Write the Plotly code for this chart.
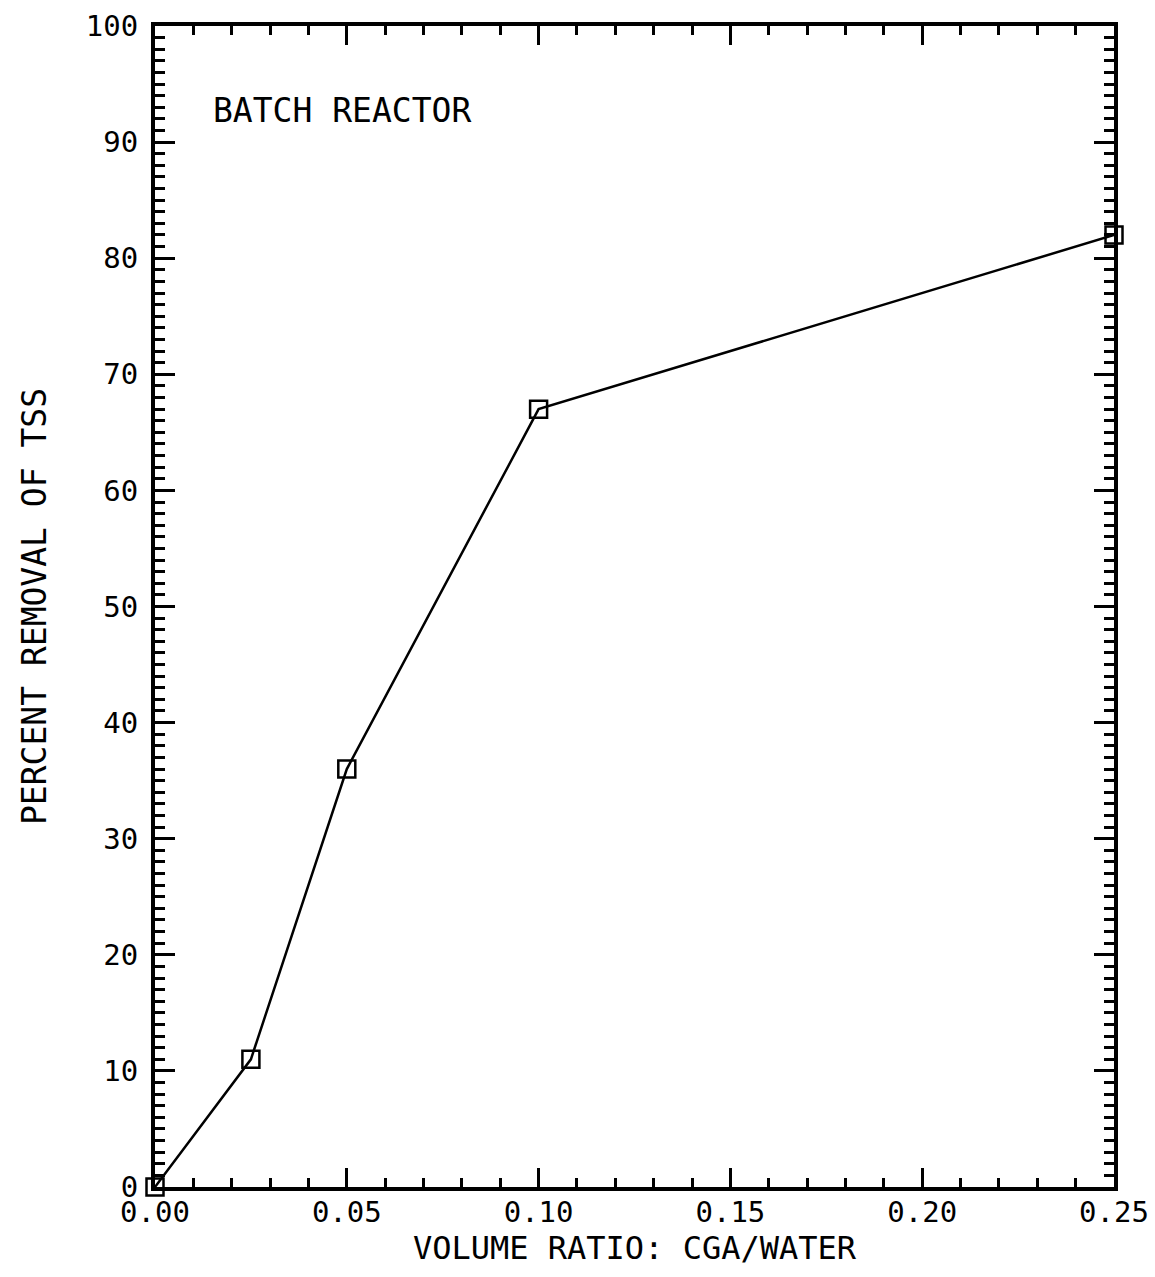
import plotly.graph_objects as go

# Data
volume_ratio = [0.0, 0.025, 0.05, 0.10, 0.25]
percent_removal = [0, 11, 36, 67, 82]

x_tickvals = [0.00, 0.05, 0.10, 0.15, 0.20, 0.25]
x_ticktext = ["0.00", "0.05", "0.10", "0.15", "0.20", "0.25"]
y_tickvals = [0, 10, 20, 30, 40, 50, 60, 70, 80, 90, 100]
y_ticktext = ["0", "10", "20", "30", "40", "50", "60", "70", "80", "90", "100"]

FONT = "DejaVu Sans Mono"

fig = go.Figure()
fig.add_trace(go.Scatter(
    x=volume_ratio, y=percent_removal,
    mode="lines+markers",
    line=dict(color="black", width=2.5),
    marker=dict(symbol="square-open", size=17, color="black", line=dict(width=2.5)),
    cliponaxis=False,
    showlegend=False,
))

axis_common = dict(
    showgrid=False, zeroline=False, automargin=False,
    showline=True, linecolor="black", linewidth=4,
    mirror="ticks", ticks="inside", tickcolor="black", tickwidth=3,
    tickfont=dict(family=FONT, size=29, color="black"),
)

fig.update_xaxes(
    range=[0, 0.25], tickmode="array", tickvals=x_tickvals, ticktext=x_ticktext,
    ticklen=19, ticklabelstandoff=-4,
    minor=dict(dtick=0.01, tick0=0, ticks="inside", ticklen=9, tickwidth=3, tickcolor="black", showgrid=False),
    title=dict(text="VOLUME RATIO: CGA/WATER", font=dict(family=FONT, size=32, color="black"), standoff=2),
    **axis_common,
)
fig.update_yaxes(
    range=[0, 100], tickmode="array", tickvals=y_tickvals, ticktext=y_ticktext,
    ticklen=20, ticklabelstandoff=7,
    minor=dict(dtick=1, tick0=0, ticks="inside", ticklen=10, tickwidth=3, tickcolor="black", showgrid=False),
    title=dict(text="PERCENT REMOVAL OF TSS", font=dict(family=FONT, size=33, color="black"), standoff=30),
    **axis_common,
)

fig.add_annotation(
    x=0.0146, y=92.7, xref="x", yref="y",
    text="BATCH REACTOR", showarrow=False,
    xanchor="left", yanchor="middle",
    font=dict(family=FONT, size=33, color="black"),
)

fig.update_layout(
    width=1155, height=1277,
    margin=dict(l=155, r=41, t=26, b=90),
    paper_bgcolor="white", plot_bgcolor="white",
    font=dict(family=FONT, color="black"),
)

fig.write_html("out.html")
